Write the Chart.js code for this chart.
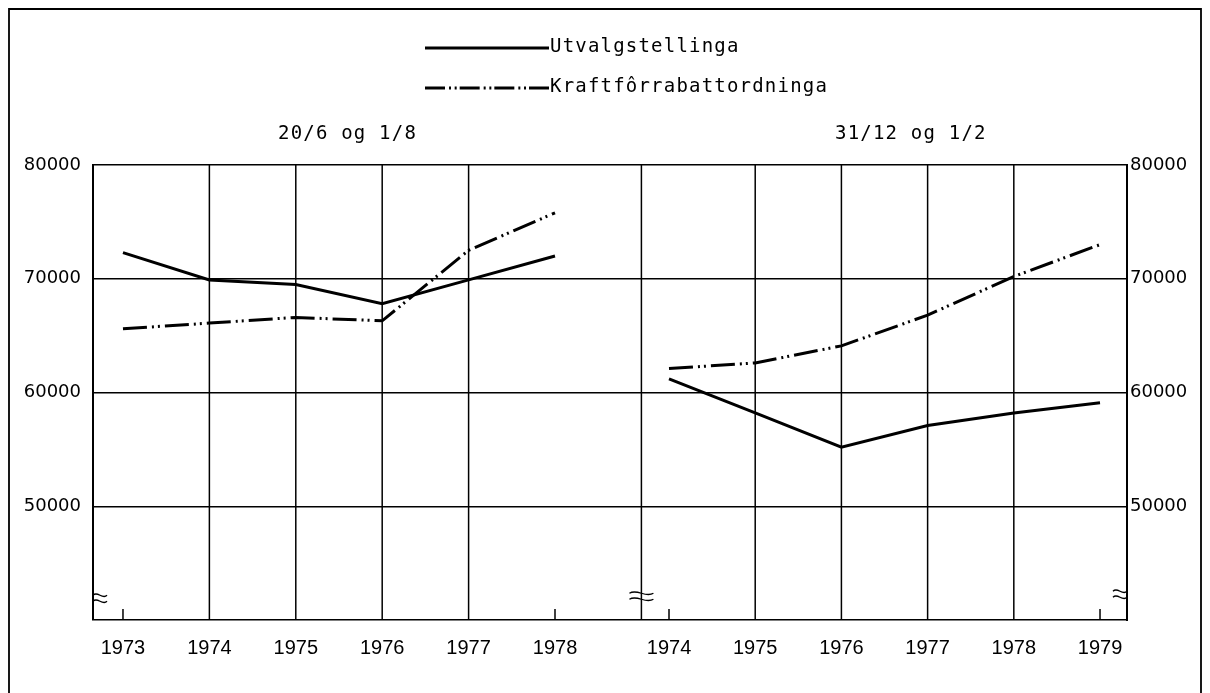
<!DOCTYPE html>
<html>
<head>
<meta charset="utf-8">
<title>Utvalgstellinga og Kraftfôrrabattordninga</title>
<script src="https://cdn.jsdelivr.net/npm/chart.js@4"></script>
<style>
  html, body { margin: 0; padding: 0; background: #fff; }
  #chart { display: block; }
</style>
</head>
<body>
<canvas id="chart" width="1210" height="693"></canvas>
<script>
// values
const yearsLeft = [1973, 1974, 1975, 1976, 1977, 1978];
const yearsRight = [1974, 1975, 1976, 1977, 1978, 1979];
const utvalgLeft = [72300, 69900, 69500, 67800, 69900, 72000];
const kraftLeft = [65600, 66100, 66600, 66300, 72500, 75800];
const utvalgRight = [61200, 58200, 55200, 57100, 58200, 59100];
const kraftRight = [62100, 62600, 64100, 66800, 70200, 73000];
const yTicks = [50000, 60000, 70000, 80000];
const gridLeft = [1974, 1975, 1976, 1977];
const gridRight = [1975, 1976, 1977, 1978];
const seriesNames = ["Utvalgstellinga", "Kraftfôrrabattordninga"];
const panelTitles = ["20/6 og 1/8", "31/12 og 1/2"];

const dashDot = [24, 5, 2, 4, 2, 5];
const legendDash = [20, 4, 2, 3.67, 2, 3]; // 3 periods + one dash fill the 124px sample
const typeFont = "19px 'DejaVu Sans Mono'";

function points(years, values) {
  return years.map((yr, i) => ({ x: yr, y: values[i] }));
}

// little "≈" break mark
function squiggle(ctx, x, y, w) {
  [-3, 3].forEach((d) => {
    ctx.beginPath();
    ctx.moveTo(x, y + d);
    ctx.bezierCurveTo(x + w / 3, y + d - 5, x + (2 * w) / 3, y + d + 5, x + w, y + d);
    ctx.stroke();
  });
}

function typeText(ctx, text, x, y) {
  ctx.font = typeFont;
  ctx.letterSpacing = "1.2px";
  ctx.textAlign = "left";
  ctx.textBaseline = "middle";
  ctx.fillText(text, x, y);
  ctx.letterSpacing = "0px";
}

const paperPlugin = {
  id: "paper",
  beforeDatasetsDraw(chart) {
    const ctx = chart.ctx;
    const { top, bottom } = chart.chartArea;
    const xl = chart.scales.x;
    const xr = chart.scales.x2;
    const y = chart.scales.y;
    ctx.save();
    ctx.strokeStyle = "#000";
    ctx.lineWidth = 1.5;

    // full vertical lines, plus the break between the two panels
    const full = gridLeft.map((v) => xl.getPixelForValue(v))
      .concat(gridRight.map((v) => xr.getPixelForValue(v)));
    full.push(xl.getPixelForValue(1979));
    full.forEach((px) => {
      ctx.beginPath();
      ctx.moveTo(px, top);
      ctx.lineTo(px, bottom);
      ctx.stroke();
    });

    // short ticks where no full line is drawn
    const shortL = yearsLeft.filter((v) => !gridLeft.includes(v)).map((v) => xl.getPixelForValue(v));
    const shortR = yearsRight.filter((v) => !gridRight.includes(v)).map((v) => xr.getPixelForValue(v));
    shortL.concat(shortR).forEach((px) => {
      ctx.beginPath();
      ctx.moveTo(px, bottom);
      ctx.lineTo(px, bottom - 11);
      ctx.stroke();
    });

    // break marks on the axes
    const by = y.getPixelForValue(42000);
    ctx.lineWidth = 1.3;
    squiggle(ctx, chart.chartArea.left, by + 1, 14);
    const mid = xl.getPixelForValue(1979);
    squiggle(ctx, mid - 12, by - 1, 24);
    squiggle(ctx, chart.chartArea.right - 14, by - 3, 14);
    ctx.restore();
  },
  afterDraw(chart) {
    const ctx = chart.ctx;
    const { bottom } = chart.chartArea;
    const xl = chart.scales.x;
    const xr = chart.scales.x2;
    ctx.save();
    ctx.fillStyle = "#000";
    ctx.strokeStyle = "#000";

    // year labels
    ctx.font = "20px 'Liberation Sans'";
    ctx.textAlign = "center";
    ctx.textBaseline = "middle";
    yearsLeft.forEach((v) => ctx.fillText(String(v), xl.getPixelForValue(v), bottom + 28));
    yearsRight.forEach((v) => ctx.fillText(String(v), xr.getPixelForValue(v), bottom + 28));

    // panel titles
    typeText(ctx, panelTitles[0], 278, 134);
    typeText(ctx, panelTitles[1], 835, 134);

    // legend
    ctx.lineWidth = 3;
    ctx.beginPath();
    ctx.moveTo(425, 48);
    ctx.lineTo(549, 48);
    ctx.stroke();
    ctx.setLineDash(legendDash);
    ctx.beginPath();
    ctx.moveTo(425, 88);
    ctx.lineTo(549, 88);
    ctx.stroke();
    ctx.setLineDash([]);
    typeText(ctx, seriesNames[0], 550, 47);
    typeText(ctx, seriesNames[1], 550, 87);

    // frame round the figure
    ctx.lineWidth = 1.8;
    ctx.beginPath();
    ctx.moveTo(9, 700);
    ctx.lineTo(9, 9);
    ctx.lineTo(1201, 9);
    ctx.lineTo(1201, 700);
    ctx.stroke();
    ctx.restore();
  }
};

document.addEventListener("DOMContentLoaded", () => {
  const el = document.getElementById("chart");
  const lineStyle = { borderColor: "#000", borderWidth: 3, pointRadius: 0, tension: 0, fill: false };

  new Chart(el, {
    type: "line",
    data: {
      datasets: [
        { ...lineStyle, label: seriesNames[0], xAxisID: "x", data: points(yearsLeft, utvalgLeft) },
        { ...lineStyle, label: seriesNames[1], xAxisID: "x", borderDash: dashDot, data: points(yearsLeft, kraftLeft) },
        { ...lineStyle, label: seriesNames[0], xAxisID: "x2", data: points(yearsRight, utvalgRight) },
        { ...lineStyle, label: seriesNames[1], xAxisID: "x2", borderDash: dashDot, data: points(yearsRight, kraftRight) }
      ]
    },
    options: {
      responsive: false,
      animation: false,
      layout: { padding: { left: 0, right: 0, top: 165, bottom: 73 } },
      plugins: {
        legend: { display: false },
        tooltip: { enabled: false }
      },
      scales: {
        x: { type: "linear", display: false, min: 1972.653, max: 1984.62 },
        x2: { type: "linear", display: false, min: 1967.318, max: 1979.313 },
        y: {
          position: "left",
          min: 40000,
          max: 80000,
          afterBuildTicks: (s) => { s.ticks = [40000].concat(yTicks).map((v) => ({ value: v })); },
          afterFit: (s) => { s.width = 93; },
          border: { display: true, color: "#000", width: 2 },
          grid: { color: "#000", lineWidth: 1.5, drawTicks: false },
          ticks: {
            padding: 12,
            color: "#000",
            font: { family: "DejaVu Sans", size: 18 },
            callback: (v) => (yTicks.includes(v) ? String(v) : "")
          }
        },
        y2: {
          position: "right",
          min: 40000,
          max: 80000,
          afterBuildTicks: (s) => { s.ticks = [40000].concat(yTicks).map((v) => ({ value: v })); },
          afterFit: (s) => { s.width = 83; },
          border: { display: true, color: "#000", width: 2 },
          grid: { drawOnChartArea: false, drawTicks: false },
          ticks: {
            padding: 3,
            color: "#000",
            font: { family: "DejaVu Sans", size: 18 },
            callback: (v) => (yTicks.includes(v) ? String(v) : "")
          }
        }
      }
    },
    plugins: [paperPlugin]
  });
});
</script>
</body>
</html>
